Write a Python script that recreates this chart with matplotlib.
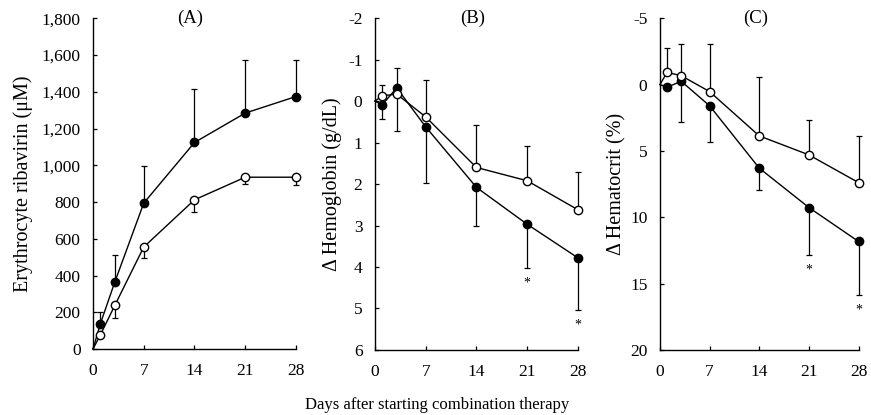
import matplotlib.pyplot as plt
import numpy as np

plt.rcParams['font.family'] = ['Liberation Serif', 'DejaVu Serif']
plt.rcParams['axes.unicode_minus'] = False

days = [0, 1, 3, 7, 14, 21, 28]

# (A) erythrocyte ribavirin, uM
rbv_filled = [0, 136, 364, 794, 1124, 1284, 1374]
rbv_filled_err = [0, 64, 149, 203, 291, 288, 201]   # upward
rbv_open = [0, 76, 237, 555, 812, 935, 935]
rbv_open_err = [0, 0, 67, 60, 64, 37, 42]           # downward

# (B) change in hemoglobin, g/dL (axis inverted)
hb_filled = [0, 0.09, -0.32, 0.62, 2.08, 2.97, 3.78]
hb_filled_err = [0, 0.35, 1.03, 1.36, 0.92, 1.05, 1.25]
hb_open = [0, -0.13, -0.17, 0.38, 1.60, 1.92, 2.62]
hb_open_err = [0, 0.26, 0.62, 0.88, 1.03, 0.85, 0.92]

# (C) change in hematocrit, % (axis inverted)
ht_filled = [0, 0.20, -0.25, 1.60, 6.30, 9.27, 11.83]
ht_filled_err = [0, 0, 3.04, 2.70, 1.64, 3.57, 4.02]
ht_open = [0, -0.92, -0.67, 0.53, 3.87, 5.30, 7.39]
ht_open_err = [0, 1.82, 2.40, 3.60, 4.42, 2.62, 3.52]

signif_days = [21, 28]

fig = plt.figure(figsize=(8.71, 4.15), dpi=100)
axA = fig.add_axes([0.1068, 0.159, 0.233, 0.797])
axB = fig.add_axes([0.4305, 0.157, 0.233, 0.799])
axC = fig.add_axes([0.7577, 0.157, 0.228, 0.799])


def draw_series(ax, y, err, filled, up):
    x = np.array(days)
    y = np.array(y, dtype=float)
    err = np.array(err, dtype=float)
    m = err > 0
    zero = np.zeros_like(err)
    yerr = [zero[m], err[m]] if up else [err[m], zero[m]]
    ax.errorbar(x[m], y[m], yerr=yerr, fmt='none', ecolor='black',
                elinewidth=0.9, capsize=2.5, capthick=0.9, zorder=2,
                clip_on=False)
    ax.plot(x, y, color='black', lw=1.0, zorder=3, clip_on=False)
    ax.plot(x[1:], y[1:], 'o', ms=6, mec='black', mew=1.0,
            mfc='black' if filled else 'white', zorder=4, clip_on=False)


def style(ax, ylim, yticks, ylabel, title, label_x):
    ax.set_xlim(0, 28)
    ax.set_xticks([0, 7, 14, 21, 28])
    ax.set_ylim(*ylim)
    ax.set_yticks(yticks)
    for s in ['top', 'right']:
        ax.spines[s].set_visible(False)
    for s in ['left', 'bottom']:
        ax.spines[s].set_linewidth(1.0)
    ax.tick_params(direction='in', length=3, width=0.9, labelsize=12.5)
    ax.tick_params(axis='x', pad=10)
    ax.tick_params(axis='y', pad=9)
    ax.set_ylabel(ylabel, fontsize=14.5)
    ax.yaxis.set_label_coords(label_x, 0.5)
    ax.text(0.48, 1.0, title, transform=ax.transAxes, ha='center',
            va='center', fontsize=13.5)


draw_series(axA, rbv_filled, rbv_filled_err, True, True)
draw_series(axA, rbv_open, rbv_open_err, False, False)
style(axA, (0, 1800), range(0, 1801, 200), 'Erythrocyte ribavirin (\u03bcM)', '(A)', -0.296)
axA.set_yticklabels([f'{v:,}' for v in range(0, 1801, 200)])

draw_series(axB, hb_filled, hb_filled_err, True, True)
draw_series(axB, hb_open, hb_open_err, False, False)
style(axB, (6, -2), range(-2, 7), '\u0394 Hemoglobin (g/dL)', '(B)', -0.161)

draw_series(axC, ht_filled, ht_filled_err, True, True)
draw_series(axC, ht_open, ht_open_err, False, False)
style(axC, (20, -5), range(-5, 21, 5), '\u0394 Hematocrit (%)', '(C)', -0.17)

for ax, y, err in [(axB, hb_filled, hb_filled_err), (axC, ht_filled, ht_filled_err)]:
    for d in signif_days:
        i = days.index(d)
        ax.annotate('*', (d, y[i] + err[i]), xytext=(0, -11),
                    textcoords='offset points', ha='center', va='center',
                    fontsize=10, annotation_clip=False)

fig.text(0.502, 0.025, 'Days after starting combination therapy',
         ha='center', va='center', fontsize=12)

fig.savefig('out.png', dpi=100)
